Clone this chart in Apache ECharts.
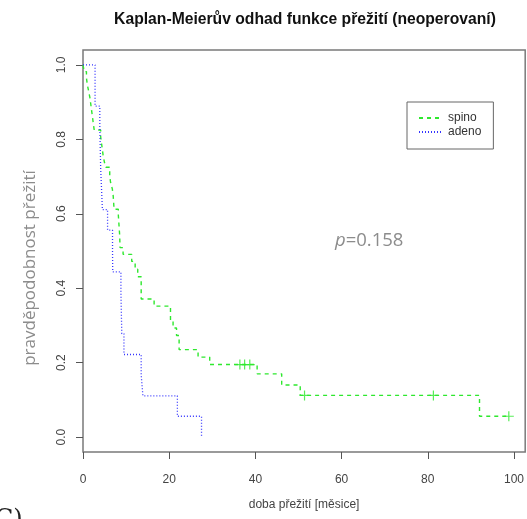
<!DOCTYPE html>
<html>
<head>
<meta charset="utf-8">
<script src="https://cdn.jsdelivr.net/npm/echarts@6/dist/echarts.min.js"></script>
<style>html,body{margin:0;padding:0;background:#fff}#c{width:527px;height:519px}</style>
</head>
<body>
<div id="c"></div>
<script>
// ---- data ----
const seriesNames = ['spino', 'adeno'];
const spinoTimes = [0, 0.3, 0.8, 1.0, 1.3, 1.6, 1.8, 2.0, 2.2, 2.4, 2.6, 4.1, 4.3, 4.5, 4.7, 5.0, 5.3, 6.2, 6.4, 6.8, 7.0, 7.1, 7.2, 8.2, 8.3, 8.4, 8.5, 8.6, 9.3, 11.3, 12.1, 12.7, 13.5, 16.5, 20.3, 20.9, 21.7, 22.3, 26.7, 29.4, 40.4, 46.1, 50.4, 92.0, 98.8];
const spinoSurv  = [1.0, 0.982, 0.965, 0.947, 0.930, 0.912, 0.895, 0.877, 0.860, 0.842, 0.825, 0.807, 0.789, 0.772, 0.754, 0.737, 0.725, 0.702, 0.684, 0.667, 0.649, 0.632, 0.612, 0.596, 0.579, 0.561, 0.544, 0.509, 0.491, 0.472, 0.451, 0.431, 0.371, 0.352, 0.312, 0.293, 0.273, 0.235, 0.215, 0.195, 0.170, 0.140, 0.112, 0.056, 0.056];
const spinoCensorTimes = [36.4, 37.5, 38.7, 51.4, 81.3, 98.8];
const spinoCensorSurv  = [0.195, 0.195, 0.195, 0.112, 0.112, 0.056];
const adenoTimes = [0, 2.8, 3.9, 4.0, 4.1, 4.3, 4.5, 5.7, 6.85, 6.9, 8.8, 8.9, 9.0, 9.5, 13.5, 13.9, 21.9, 27.5];
const adenoSurv  = [1.0, 0.889, 0.833, 0.778, 0.722, 0.667, 0.611, 0.556, 0.500, 0.444, 0.389, 0.333, 0.278, 0.222, 0.167, 0.111, 0.056, 0.0];
const xTicks = [0, 20, 40, 60, 80, 100];
const yTicks = [0, 0.2, 0.4, 0.6, 0.8, 1.0];
const titleText = 'Kaplan-Meierův odhad funkce přežití (neoperovaní)';
const xName = 'doba přežití [měsice]';
const yName = 'pravděpodobnost přežití';
const pText = '0.158';

const zip = (a, b) => a.map((v, i) => [v, b[i]]);
const green = '#2ee82e', blue = '#3535ff';
const plusPath = 'path://M4.4,0h1.2v4.4h4.4v1.2h-4.4v4.4h-1.2v-4.4h-4.4v-1.2h4.4z';

const chart = echarts.init(document.getElementById('c'), null, {renderer: 'canvas'});
chart.setOption({
  animation: false,
  backgroundColor: '#fff',
  grid: {left: 83, top: 50, width: 443.5, height: 402, show: true, borderColor: '#7a7a7a', borderWidth: 1.5, backgroundColor: 'transparent'},
  xAxis: {
    type: 'value', min: 0, max: 102.6,
    axisLine: {show: false, onZero: false},
    splitLine: {show: false},
    axisTick: {show: true, inside: false, length: 7, customValues: xTicks, lineStyle: {color: '#555', width: 1}},
    axisLabel: {customValues: xTicks, margin: 22, color: '#444', fontSize: 12, fontFamily: 'Liberation Sans'},
    name: xName, nameLocation: 'middle', nameGap: 47,
    nameTextStyle: {color: '#444', fontSize: 12, fontFamily: 'Liberation Sans'}
  },
  yAxis: {
    type: 'value', min: -0.04, max: 1.04,
    axisLine: {show: false, onZero: false},
    splitLine: {show: false},
    axisTick: {show: true, inside: false, length: 7, customValues: yTicks, lineStyle: {color: '#555', width: 1}},
    axisLabel: {customValues: yTicks, rotate: 90, margin: 15, color: '#444', fontSize: 12, fontFamily: 'Liberation Sans',
      formatter: v => v.toFixed(1)}
  },
  legend: {
    data: seriesNames, orient: 'vertical', left: 407, top: 102,
    itemWidth: 24, itemHeight: 14, itemGap: 2,
    padding: [10, 12, 11, 11],
    itemStyle: {opacity: 0},
    borderColor: '#666', borderWidth: 1, backgroundColor: '#fff',
    textStyle: {color: '#333', fontSize: 12, fontFamily: 'Liberation Sans'}
  },
  series: [
    {name: seriesNames[0], type: 'line', step: 'end', symbol: 'none', data: zip(spinoTimes, spinoSurv),
      lineStyle: {color: green, width: 1.4, type: [4, 4]}, itemStyle: {color: green}},
    {name: seriesNames[1], type: 'line', step: 'end', symbol: 'none', data: zip(adenoTimes, adenoSurv),
      lineStyle: {color: blue, width: 1.3, type: [1, 2]}, itemStyle: {color: blue}},
    {name: 'censor', type: 'scatter', symbol: plusPath, symbolSize: 10, data: zip(spinoCensorTimes, spinoCensorSurv),
      itemStyle: {color: green}}
  ],
  graphic: [
    {type: 'text', style: {text: titleText, x: 305, y: 20, align: 'center', verticalAlign: 'middle',
      font: 'bold 15.7px "Liberation Sans"', fill: '#111'}},
    {type: 'text', rotation: Math.PI / 2, x: 30, y: 268, style: {text: yName, x: 0, y: 0, align: 'center', verticalAlign: 'middle',
      font: '17px "Open Sans"', fill: '#8c8c8c'}},
    {type: 'text', style: {x: 335, y: 241, verticalAlign: 'middle', fill: '#8c8c8c', text: '{i|p}{n|=' + pText + '}',
      rich: {i: {fontStyle: 'italic', fontSize: 18.5, fontFamily: 'Open Sans', fill: '#8c8c8c'},
             n: {fontSize: 18.5, fontFamily: 'Open Sans', fill: '#8c8c8c'}}}},
    {type: 'text', style: {text: 'C)', x: -5, y: 508, font: '24px "DejaVu Serif"', fill: '#222'}}
  ]
});
</script>
</body>
</html>
